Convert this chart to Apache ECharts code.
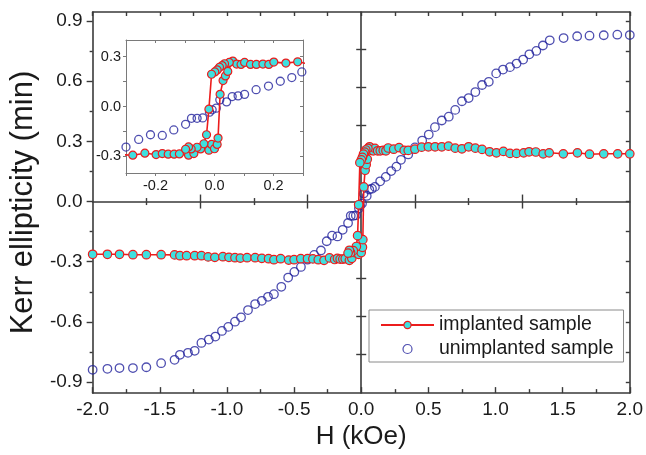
<!DOCTYPE html>
<html><head><meta charset="utf-8">
<script src="https://cdn.jsdelivr.net/npm/echarts@6/dist/echarts.min.js"></script>
<style>html,body{margin:0;padding:0;background:#fff}#c{width:646px;height:455px}</style>
</head><body><div id="c"></div>
<script>
// ---------- data ----------
// implanted sample, increasing-field branch
const implUpH = [-2.0,-1.89,-1.8,-1.7,-1.6,-1.49,-1.39,-1.35,-1.3,-1.24,-1.19,-1.14,-1.09,-1.03,-0.985,-0.94,-0.9,-0.85,-0.79,-0.74,-0.69,-0.65,-0.6,-0.54,-0.5,-0.45,-0.4,-0.36,-0.32,-0.277,-0.236,-0.198,-0.177,-0.157,-0.137,-0.119,-0.088,-0.07,-0.047,-0.019,-0.01,0.0,0.009,0.012,0.019,0.029,0.037,0.045,0.062,0.075,0.09,0.102,0.122,0.142,0.164,0.184,0.201,0.242,0.282,0.32,0.35,0.4,0.45,0.5,0.55,0.6,0.65,0.7,0.75,0.8,0.85,0.9,0.956,1.007,1.059,1.108,1.157,1.21,1.25,1.3,1.355,1.4,1.505,1.61,1.7,1.806,1.91,2.0];
const implUpK = [-0.263,-0.263,-0.263,-0.265,-0.265,-0.265,-0.266,-0.27,-0.27,-0.27,-0.27,-0.276,-0.278,-0.275,-0.278,-0.28,-0.282,-0.28,-0.28,-0.283,-0.285,-0.29,-0.285,-0.292,-0.29,-0.285,-0.285,-0.286,-0.29,-0.293,-0.281,-0.289,-0.283,-0.287,-0.287,-0.285,-0.293,-0.283,-0.255,-0.263,-0.228,-0.254,-0.228,-0.19,0.073,0.156,0.184,0.211,0.273,0.255,0.253,0.265,0.253,0.253,0.255,0.253,0.267,0.261,0.269,0.255,0.255,0.261,0.271,0.273,0.273,0.273,0.276,0.266,0.263,0.273,0.266,0.26,0.248,0.243,0.25,0.24,0.24,0.243,0.248,0.247,0.238,0.243,0.238,0.243,0.236,0.238,0.238,0.238];
// implanted sample, decreasing-field branch (where it differs)
const implDownH = [0.05,0.034,0.026,0.017,0.009,0.001,-0.01,-0.019,-0.027,-0.036,-0.059,-0.079,-0.088,-0.098];
const implDownK = [0.265,0.257,0.246,0.236,0.22,0.208,0.194,-0.016,-0.17,-0.224,-0.245,-0.255,-0.243,-0.257];
// unimplanted sample
const unimpH = [-2.0,-1.89,-1.8,-1.7,-1.6,-1.49,-1.39,-1.35,-1.29,-1.24,-1.19,-1.135,-1.086,-1.037,-0.99,-0.94,-0.895,-0.843,-0.79,-0.74,-0.694,-0.65,-0.595,-0.544,-0.498,-0.449,-0.4,-0.35,-0.3,-0.257,-0.217,-0.177,-0.138,-0.098,-0.078,-0.059,-0.04,-0.017,-0.008,0.006,0.018,0.041,0.06,0.08,0.102,0.141,0.183,0.223,0.262,0.296,0.35,0.4,0.454,0.503,0.549,0.6,0.652,0.7,0.75,0.8,0.85,0.9,0.95,1.005,1.056,1.108,1.157,1.206,1.252,1.304,1.353,1.404,1.507,1.608,1.7,1.806,1.907,2.0];
const unimpK = [-0.839,-0.834,-0.83,-0.83,-0.826,-0.806,-0.789,-0.764,-0.754,-0.744,-0.705,-0.688,-0.673,-0.645,-0.625,-0.599,-0.577,-0.541,-0.511,-0.495,-0.475,-0.462,-0.425,-0.379,-0.351,-0.326,-0.29,-0.266,-0.244,-0.198,-0.17,-0.174,-0.141,-0.107,-0.071,-0.071,-0.069,-0.034,-0.02,-0.01,0.04,0.028,0.06,0.064,0.073,0.101,0.123,0.152,0.174,0.208,0.235,0.27,0.304,0.334,0.371,0.404,0.423,0.457,0.5,0.516,0.546,0.581,0.597,0.639,0.658,0.67,0.688,0.708,0.734,0.751,0.778,0.804,0.815,0.824,0.827,0.829,0.832,0.83];

// ---------- tick labels ----------
const mainYLabels = [-0.9,-0.6,-0.3,0,0.3,0.6,0.9];
const mainYMinor = [-0.75,-0.45,-0.15,0.15,0.45,0.75];
const mainYRight = [-0.9,-0.75,-0.6,-0.45,-0.3,-0.15,0,0.15,0.3,0.45,0.6,0.75,0.9];
const zeroYTicks = [-0.76,-0.57,-0.38,-0.19,0.19,0.38,0.57,0.76];
const zeroXLong = [-1.2,-0.4,0.4,1.2];
const zeroXShort = [-1.6,-0.8,0.8,1.6];
const insetYLabels = [-0.3,0,0.3];
const insetYTicks = [-0.3,-0.15,0,0.15,0.3];

const names = ['implanted sample','unimplanted sample'];
const zip = (a,b) => a.map((v,i)=>[v,b[i]]);
const fmt = v => (Math.abs(v) < 1e-9 ? '0.0' : v.toFixed(1));

const FONT = 'Liberation Sans, Arial, Helvetica, sans-serif';
const AX = '#3a3a3a', IAX = '#7a7a7a';
const RED = '#ec1c1c', CYAN = '#3fe0df', BLUE = '#22229c';

function ax(o){
  const base = {
    type:'value', splitLine:{show:false},
    axisLine:{show:true, onZero:false, lineStyle:{color:AX, width:1.6}},
    axisTick:{show:true, lineStyle:{color:AX, width:1.4}},
    axisLabel:{show:false}
  };
  return echarts.util.merge(base, o, true);
}

const xAxes = [
  ax({gridIndex:0, min:-2, max:2, interval:0.5, position:'bottom',
      axisTick:{inside:true, length:6}, minorTick:{show:true, splitNumber:2, length:4, lineStyle:{color:AX, width:1.4}},
      axisLabel:{show:true, fontSize:19, margin:7, color:'#1a1a1a', fontFamily:FONT, formatter:fmt},
      name:'H (kOe)', nameLocation:'middle', nameGap:30, nameTextStyle:{fontSize:26, color:'#1a1a1a', fontFamily:FONT}}),
  ax({gridIndex:0, min:-2, max:2, interval:0.25, position:'top', axisTick:{inside:true, length:4}}),
  ax({gridIndex:0, min:-2, max:2, position:'bottom', axisLine:{onZero:true, onZeroAxisIndex:0},
      axisTick:{inside:true, length:7, customValues:zeroXLong}}),
  ax({gridIndex:0, min:-2, max:2, position:'bottom', axisLine:{show:false, onZero:true, onZeroAxisIndex:0},
      axisTick:{inside:false, length:7, customValues:zeroXLong}}),
  ax({gridIndex:0, min:-2, max:2, position:'bottom', axisLine:{show:false, onZero:true, onZeroAxisIndex:0},
      axisTick:{inside:true, length:3.5, customValues:zeroXShort}}),
  ax({gridIndex:0, min:-2, max:2, position:'bottom', axisLine:{show:false, onZero:true, onZeroAxisIndex:0},
      axisTick:{inside:false, length:3.5, customValues:zeroXShort}}),
  ax({gridIndex:1, min:-0.3, max:0.3, interval:0.1, position:'bottom',
      axisLine:{lineStyle:{color:IAX, width:1}}, axisTick:{inside:false, length:3, lineStyle:{color:IAX, width:1}},
      axisLabel:{show:true, interval:0, fontSize:14.5, margin:5, color:'#1a1a1a', fontFamily:FONT,
        formatter: v => (Math.round(Math.abs(v)*10) % 2 === 0 ? fmt(v) : '')}}),
  ax({gridIndex:1, min:-0.3, max:0.3, interval:0.1, position:'top',
      axisLine:{lineStyle:{color:IAX, width:1}}, axisTick:{inside:true, length:3, lineStyle:{color:IAX, width:1}}})
];

const yAxes = [
  ax({gridIndex:0, min:-0.955, max:0.945, position:'left',
      axisTick:{inside:false, length:6, customValues:mainYLabels},
      axisLabel:{show:true, customValues:mainYLabels, fontSize:19, margin:10, color:'#1a1a1a', fontFamily:FONT, formatter:fmt},
      name:'Kerr ellipticity (min)', nameLocation:'middle', nameGap:49, nameTextStyle:{fontSize:31, color:'#1a1a1a', fontFamily:FONT}}),
  ax({gridIndex:0, min:-0.955, max:0.945, position:'left', axisLine:{show:false},
      axisTick:{inside:false, length:3, customValues:mainYMinor}}),
  ax({gridIndex:0, min:-0.955, max:0.945, position:'right',
      axisTick:{inside:true, length:4, customValues:mainYRight}}),
  ax({gridIndex:0, min:-0.955, max:0.945, position:'left', axisLine:{onZero:true, onZeroAxisIndex:0},
      axisTick:{inside:true, length:5, customValues:zeroYTicks}}),
  ax({gridIndex:0, min:-0.955, max:0.945, position:'left', axisLine:{show:false, onZero:true, onZeroAxisIndex:0},
      axisTick:{inside:false, length:5, customValues:zeroYTicks}}),
  ax({gridIndex:1, min:-0.4, max:0.4, position:'left',
      axisLine:{lineStyle:{color:IAX, width:1}}, axisTick:{inside:false, length:3, customValues:insetYTicks, lineStyle:{color:IAX, width:1}},
      axisLabel:{show:true, customValues:insetYLabels, fontSize:14.5, margin:5, color:'#1a1a1a', fontFamily:FONT, formatter:fmt}}),
  ax({gridIndex:1, min:-0.4, max:0.4, position:'right',
      axisLine:{lineStyle:{color:IAX, width:1}}, axisTick:{inside:true, length:3, customValues:insetYTicks, lineStyle:{color:IAX, width:1}}})
];

function implSeries(data, xi, yi, size){
  return {name:names[0], type:'line', xAxisIndex:xi, yAxisIndex:yi, data:data, clip:true,
    symbol:'circle', symbolSize:size, showAllSymbol:true, animation:false,
    lineStyle:{color:RED, width:1.6}, itemStyle:{color:CYAN, borderColor:RED, borderWidth:1.2},
    emphasis:{disabled:true}};
}
function unimpSeries(data, xi, yi, size){
  return {name:names[1], type:'scatter', xAxisIndex:xi, yAxisIndex:yi, data:data, clip:true,
    symbol:'circle', symbolSize:size, animation:false,
    itemStyle:{color:'rgba(255,255,255,0)', borderColor:BLUE, borderWidth:1.3},
    emphasis:{disabled:true}};
}

const upData = zip(implUpH, implUpK);
const downData = zip(implDownH, implDownK);
const unData = zip(unimpH, unimpK);

const option = {
  animation:false,
  backgroundColor:'#fff',
  grid:[
    {left:88, top:12, width:544, height:384},
    {left:126, top:40, width:177, height:133}
  ],
  xAxis:xAxes,
  yAxis:yAxes,
  legend:{
    data:names, orient:'vertical', left:369, top:310,
    padding:[5,10,3,11], itemWidth:53, itemHeight:9, itemGap:4,
    borderColor:'#8a8a8a', borderWidth:1, selectedMode:false,
    itemStyle:{borderWidth:1.2},
    textStyle:{fontSize:19.5, lineHeight:20, color:'#1a1a1a', fontFamily:FONT}
  },
  series:[
    implSeries(upData,0,0,8.5),
    implSeries(downData,0,0,8.5),
    unimpSeries(unData,0,0,8.5),
    implSeries(upData,6,5,8),
    implSeries(downData,6,5,8),
    unimpSeries(unData,6,5,8)
  ]
};
const chart = echarts.init(document.getElementById('c'), null, {renderer:'canvas'});
chart.setOption(option);
</script>
</body></html>
